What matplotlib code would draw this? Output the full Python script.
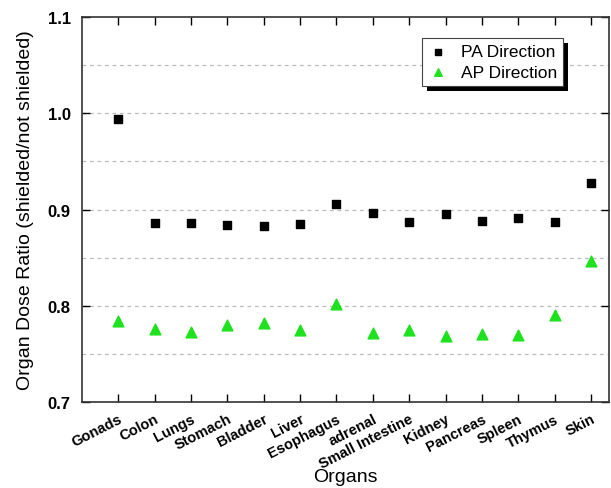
import matplotlib
matplotlib.use('Agg')
import matplotlib.pyplot as plt
from matplotlib.patches import Rectangle
import numpy as np

organs = ['Gonads', 'Colon', 'Lungs', 'Stomach', 'Bladder', 'Liver', 'Esophagus',
          'adrenal', 'Small Intestine', 'Kidney', 'Pancreas', 'Spleen', 'Thymus', 'Skin']
pa_ratio = [0.994, 0.886, 0.886, 0.884, 0.883, 0.885, 0.906,
            0.896, 0.887, 0.895, 0.888, 0.891, 0.887, 0.928]
ap_ratio = [0.784, 0.776, 0.773, 0.780, 0.782, 0.775, 0.802,
            0.772, 0.775, 0.769, 0.771, 0.770, 0.790, 0.847]

plt.rcParams['font.family'] = ['Liberation Sans', 'DejaVu Sans']

fig = plt.figure(figsize=(6.11, 4.89), dpi=100)
ax = fig.add_axes([0.134, 0.176, 0.863, 0.787])

x = np.arange(1, len(organs) + 1)
ax.scatter(x, pa_ratio, marker='s', s=40, color='black', label='PA Direction', zorder=3)
ax.scatter(x, ap_ratio, marker='^', s=60, color='#1ee21e', label='AP Direction', zorder=3)

ax.set_xlim(0, 14.5)
ax.set_ylim(0.7, 1.1)
ax.set_yticks([0.7, 0.8, 0.9, 1.0, 1.1])
ax.set_yticklabels(['0.7', '0.8', '0.9', '1.0', '1.1'], fontweight='bold', fontsize=12)
for y in [0.75, 0.8, 0.85, 0.9, 0.95, 1.0, 1.05]:
    ax.axhline(y, color='#bbbbbb', linestyle=(0, (3, 3)), linewidth=0.9, zorder=1)

ax.set_xticks(x)
ax.set_xticklabels(organs, rotation=27, ha='right', rotation_mode='anchor',
                   fontweight='bold', fontsize=10.5)
ax.tick_params(axis='both', direction='in', top=True, right=True, length=6, width=1)
ax.tick_params(axis='x', pad=7)
ax.tick_params(axis='y', pad=8)
for sp in ax.spines.values():
    sp.set_linewidth(1.2)
    sp.set_color('#333333')

ax.set_xlabel('Organs', fontsize=14, labelpad=-2)
ax.set_ylabel('Organ Dose Ratio (shielded/not shielded)', fontsize=14, labelpad=10)

leg = ax.legend(loc='upper right', bbox_to_anchor=(0.913, 0.945), fontsize=12.5,
                frameon=True, fancybox=False, framealpha=1,
                edgecolor='#444444', borderpad=0.35, handlelength=1.2,
                handletextpad=0.7, borderaxespad=0,
                labelspacing=0.3, markerscale=0.7)
leg.get_frame().set_linewidth(0.8)
leg.set_zorder(5)

# solid black drop shadow behind the legend box
fig.canvas.draw()
bb = leg.get_window_extent().transformed(fig.transFigure.inverted())
dx, dy = 5 / 611, 5 / 489
ax.add_patch(Rectangle((bb.x0 + dx, bb.y0 - dy), bb.width, bb.height,
                       transform=fig.transFigure, facecolor='black',
                       edgecolor='none', zorder=4, clip_on=False))

fig.savefig('out.png', dpi=100)
